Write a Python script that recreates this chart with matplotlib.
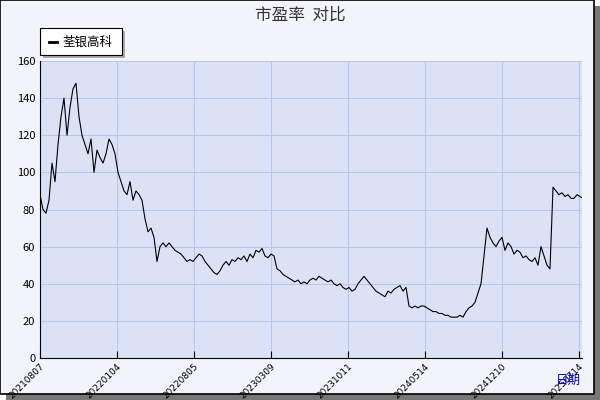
import matplotlib
matplotlib.use("Agg")
import matplotlib.pyplot as plt
from matplotlib.patches import Rectangle

plt.rcParams['font.family'] = ['Noto Sans CJK SC', 'DejaVu Sans']

pe_values = [88,80,78,85,105,95,115,130,140,120,135,145,148,130,120,115,110,118,100,112,
 108,105,110,118,115,110,100,95,90,88,95,85,90,88,85,75,68,70,65,52,60,62,60,62,60,58,57,56,54,52,
 53,52,54,56,55,52,50,48,46,45,47,50,52,50,53,52,54,53,55,52,56,54,58,57,59,55,54,56,55,48,
 47,45,44,43,42,41,42,40,41,40,42,43,42,44,43,42,41,42,40,39,40,38,37,38,36,37,40,42,44,42,
 40,38,36,35,34,33,36,35,37,38,39,36,38,28,27,28,27,28,28,27,26,25,25,24,24,23,23,22,22,22,
 23,22,25,27,28,30,35,40,55,70,65,62,60,63,65,58,62,60,56,58,57,54,55,53,52,54,50,60,55,50,
 48,92,90,88,89,87,88,86,86,88,87,86]
tick_labels = ['20210807','20220104','20220805','20230309','20231011','20240514','20241210','20250714']
series_name = '荃银高科'

W, H = 600, 400
fig = plt.figure(figsize=(6, 4), dpi=100)
fig.patch.set_facecolor('white')
fig.add_artist(Rectangle((6/W, 0), 594/W, 394/H, transform=fig.transFigure, facecolor='#777777', edgecolor='none', zorder=-3))
fig.add_artist(Rectangle((0, 6/H), 594/W, 394/H, transform=fig.transFigure, facecolor='#f2f3fb', edgecolor='black', lw=1.2, zorder=-2))

ax = fig.add_axes([40/W, 1-358/H, 542/W, (358-61)/H])
ax.set_facecolor('#dce2f6')
xs = list(range(len(pe_values)))
ax.plot(xs, pe_values, color='black', lw=0.8)
ax.set_ylim(0, 160)
ax.set_yticks(range(0, 161, 20))
xmax = (582-40)/3
ax.set_xlim(0, xmax)
ticks = [i*77/3 for i in range(len(tick_labels))]
ax.set_xticks(ticks)
ax.set_xticklabels(tick_labels, rotation=45, ha='right', rotation_mode='anchor', fontsize=6.5, family='DejaVu Sans')
ax.tick_params(axis='y', labelsize=8, length=0)
ax.tick_params(axis='x', direction='in', length=5, pad=3)
ax.grid(True, color='#b8c6ec', lw=0.8)
for s in ['top', 'right']:
    ax.spines[s].set_visible(False)
ax.spines['left'].set_color('black')
ax.spines['bottom'].set_color('black')

fig.text(300/W, 1-15/H, '市盈率  对比', ha='center', va='center', fontsize=12, color='#333333')
fig.text(568/W, 1-380/H, '日期', ha='center', va='center', fontsize=9, color='#0000cc')

fig.add_artist(Rectangle((43/W, 1-58/H), 82/W, 27/H, transform=fig.transFigure, facecolor='#aaaaaa', edgecolor='none'))
fig.add_artist(Rectangle((40/W, 1-55/H), 82/W, 27/H, transform=fig.transFigure, facecolor='white', edgecolor='black', lw=0.8))
fig.add_artist(plt.Line2D([49/W, 57/W], [1-42/H, 1-42/H], transform=fig.transFigure, color='black', lw=2))
fig.text(62/W, 1-42/H, series_name, ha='left', va='center', fontsize=9)

fig.savefig('out.png', dpi=100)
